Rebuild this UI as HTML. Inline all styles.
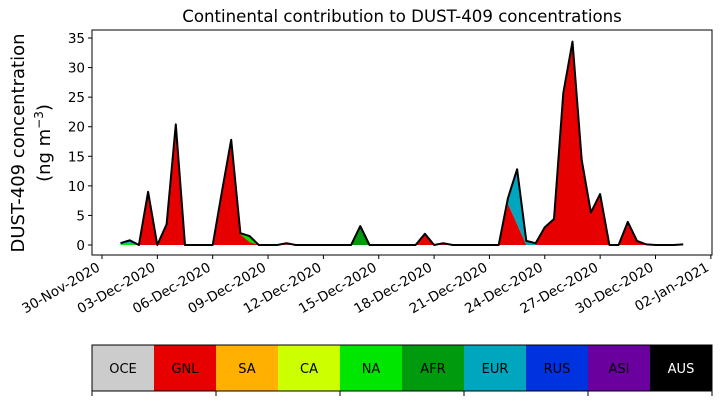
<!DOCTYPE html>
<html><head><meta charset="utf-8"><style>
body{margin:0;background:#fff;}
svg{display:block;font-family:"DejaVu Sans","Liberation Sans",sans-serif;}
</style></head><body>
<svg id="chart" width="721" height="402" viewBox="0 0 721 402" xmlns="http://www.w3.org/2000/svg"></svg>
<script>
// Data: 12-hourly values from 01-Dec-2020 00:00 (day offset from 30-Nov)
const startDay = 1;
const stepDays = 0.5;
const GNL = [0,0,0,9,0,3.5,20.4,0,0,0,0,9,17.8,1.8,0.5,0,0,0,0.1,0,0,0,0,0,0,0,0,0,0,0,0,0,0,1.9,0,0.3,0,0,0,0,0,0,7,3.5,0,0,3,4.4,25.7,34.4,14.4,5.5,8.6,0,0,3.9,0.7,0.1,0,0,0,0];
const NA  = [0.2,0.4,0,0,0,0,0,0,0,0,0,0,0,0.2,1.0,0,0,0,0,0,0,0,0,0,0,0,0,0,0,0,0,0,0,0,0,0,0,0,0,0,0,0,0,0,0,0,0,0,0,0,0,0,0,0,0,0,0,0,0,0,0,0.1];
const AFR = [0,0,0,0,0,0,0,0,0,0,0,0,0,0,0,0,0,0,0,0,0,0,0,0,0,0,3.2,0,0,0,0,0,0,0,0,0,0,0,0,0,0,0,0,0,0,0,0,0,0,0,0,0,0,0,0,0,0,0,0,0,0,0];
const EUR = [0.1,0.4,0,0,0,0,0,0,0,0,0,0,0,0,0,0,0,0,0,0,0,0,0,0,0,0,0,0,0,0,0,0,0,0,0,0,0,0,0,0,0,0,0.9,9.3,0.7,0.3,0,0,0,0,0,0,0,0,0,0,0,0,0,0,0,0];
const CA  = [0,0,0,0,0,0,0,0,0,0,0,0,0,0,0,0,0,0,0.2,0,0,0,0,0,0,0,0,0,0,0,0,0,0,0,0,0,0,0,0,0,0,0,0,0,0,0,0,0,0,0,0,0,0,0,0,0,0,0,0,0,0,0];
const seriesOrder = ["GNL","CA","NA","AFR","EUR"];
const seriesColors = {GNL:"#e60000",CA:"#ccff00",NA:"#00e600",AFR:"#009a0f",EUR:"#00a6bd"};
const seriesData = {GNL,CA,NA,AFR,EUR};
const yTicks = [0,5,10,15,20,25,30,35];
const xTickLabels = ["30-Nov-2020","03-Dec-2020","06-Dec-2020","09-Dec-2020","12-Dec-2020","15-Dec-2020","18-Dec-2020","21-Dec-2020","24-Dec-2020","27-Dec-2020","30-Dec-2020","02-Jan-2021"];
const regions = ["OCE","GNL","SA","CA","NA","AFR","EUR","RUS","ASI","AUS"];
const regionColors = ["#cccccc","#e60000","#ffb000","#ccff00","#00e600","#009a0f","#00a6bd","#0033e0","#6a009e","#000000"];

const NS="http://www.w3.org/2000/svg";
const svg=document.getElementById('chart');
function mk(t,a,p){const e=document.createElementNS(NS,t);for(const k in a)e.setAttribute(k,a[k]);(p||svg).appendChild(e);return e;}
const L=92,R=712,T=30,B=255;
const xS=d=>102+(d)*18.45;
const yS=v=>245-v*5.914;
const n=GNL.length;
const dayOf=i=>startDay+i*stepDays;

// title
let t=mk('text',{x:402,y:22,'text-anchor':'middle','font-size':16.6});t.textContent="Continental contribution to DUST-409 concentrations";


// stacked areas
const cum=new Array(n).fill(0);
seriesOrder.forEach(s=>{
  const vals=seriesData[s];
  const top=cum.map((c,i)=>c+vals[i]);
  let d="";
  for(let i=0;i<n;i++)d+=(i?"L":"M")+xS(dayOf(i)).toFixed(1)+","+yS(top[i]).toFixed(1);
  for(let i=n-1;i>=0;i--)d+="L"+xS(dayOf(i)).toFixed(1)+","+yS(cum[i]).toFixed(1);
  const p=mk('path',{d:d+"Z",fill:seriesColors[s],stroke:'none'});
  
  
  for(let i=0;i<n;i++)cum[i]=top[i];
});
// total line
let dl="";
for(let i=0;i<n;i++)dl+=(i?"L":"M")+xS(dayOf(i)).toFixed(1)+","+yS(cum[i]).toFixed(1);
const tl=mk('path',{d:dl,fill:'none',stroke:'#000','stroke-width':2,'stroke-linejoin':'round'});



// axes frame
const fr=mk('rect',{x:L,y:T,width:R-L,height:B-T,fill:'none',stroke:'#000','stroke-width':1});



yTicks.forEach(v=>{
  const y=yS(v);
  mk('line',{x1:L-4,x2:L,y1:y,y2:y,stroke:'#000'});
  const tx=mk('text',{x:L-7,y:y+5,'text-anchor':'end','font-size':13.5});tx.textContent=v;
  
  
});
xTickLabels.forEach((lab,k)=>{
  const x=xS(k*3);
  mk('line',{x1:x,x2:x,y1:B,y2:B+4,stroke:'#000'});
  const tx=mk('text',{x:x-1,y:B+15,'text-anchor':'end','font-size':13.5,transform:`rotate(-30 ${x-1} ${B+15})`});tx.textContent=lab;
  
  
});
// y title
const yt=mk('text',{transform:'translate(24,143) rotate(-90)','text-anchor':'middle','font-size':18});
yt.textContent="DUST-409 concentration";


const yt2=mk('text',{transform:'translate(50,143) rotate(-90)','text-anchor':'middle','font-size':18});


yt2.innerHTML='(ng m<tspan dy="-7" font-size="12">−3</tspan><tspan dy="7">)</tspan>';

// colorbar legend
const cw=(R-L)/regions.length, cy=345, ch=46;
regions.forEach((r,i)=>{
  const x=L+i*cw;
  const rc=mk('rect',{x:x,y:cy,width:cw+0.5,height:ch,fill:regionColors[i]});
  
  
  const tx=mk('text',{x:x+cw/2,y:cy+ch/2+5,'text-anchor':'middle','font-size':13,fill:r==="AUS"?"#fff":"#000"});tx.textContent=r;
  
  
});
const cb=mk('rect',{x:L,y:cy,width:R-L,height:ch,fill:'none',stroke:'#000'});


for(let k=0;k<=5;k++){const x=L+k*2*cw;mk('line',{x1:x,x2:x,y1:cy+ch,y2:cy+ch+5,stroke:'#000'});}
</script>
</body></html>
